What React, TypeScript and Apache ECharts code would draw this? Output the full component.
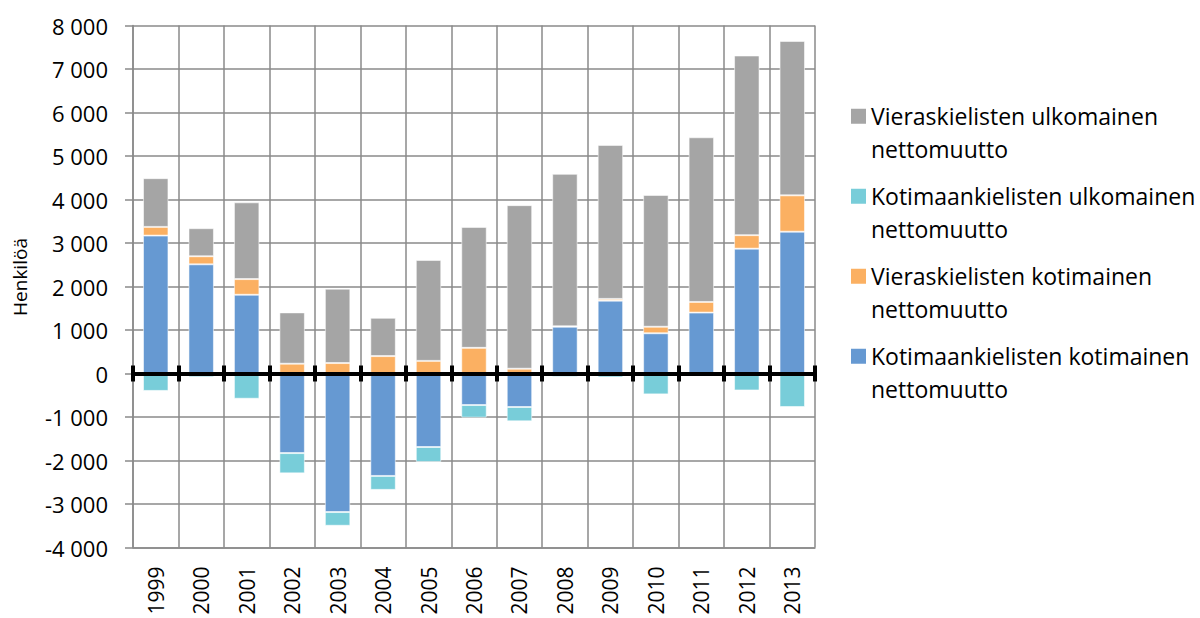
import React, { useEffect, useRef } from "react";
import * as echarts from "echarts";

const years = ["1999", "2000", "2001", "2002", "2003", "2004", "2005", "2006", "2007", "2008", "2009", "2010", "2011", "2012", "2013"];
const kotiKoti = [3170, 2510, 1810, -1830, -3185, -2355, -1690, -725, -770, 1075, 1675, 925, 1400, 2870, 3260];
const vieraKoti = [200, 185, 360, 225, 240, 400, 290, 590, 110, 10, 40, 150, 245, 310, 835];
const kotiUlko = [-400, -85, -580, -465, -315, -320, -345, -290, -330, -80, -90, -480, -10, -390, -770];
const vieraUlko = [1120, 645, 1765, 1180, 1710, 880, 2320, 2780, 3760, 3505, 3540, 3030, 3785, 4130, 3550];

const nameVieraUlko = "Vieraskielisten ulkomainen\nnettomuutto";
const nameKotiUlko = "Kotimaankielisten ulkomainen\nnettomuutto";
const nameVieraKoti = "Vieraskielisten kotimainen\nnettomuutto";
const nameKotiKoti = "Kotimaankielisten kotimainen\nnettomuutto";

const FONT = "Open Sans";

function fmt(v: number): string {
  const s = Math.abs(v).toString();
  const parts: string[] = [];
  for (let i = s.length; i > 0; i -= 3) parts.unshift(s.substring(Math.max(0, i - 3), i));
  return (v < 0 ? "-" : "") + parts.join(" ");
}

export default function App() {
  const ref = useRef<HTMLDivElement>(null);
  useEffect(() => {
    document.body.style.margin = "0";
    if (!ref.current) return;
    const chart = echarts.init(ref.current, undefined, { renderer: "svg" });
    const barBase = {
      type: "bar" as const,
      stack: "total",
      barCategoryGap: "44%",
      xAxisIndex: 0,
      yAxisIndex: 0,
    };
    const gridColor = "#8a8a8a";
    const legendIcon = "path://M0,0L0,0M0,65L0,65M0,8.75L15,8.75L15,23.75L0,23.75Z";
    chart.setOption({
      animation: false,
      textStyle: { fontFamily: FONT },
      grid: { left: 133, right: 385, top: 25.5, bottom: 70.5, containLabel: false },
      legend: {
        orient: "vertical",
        left: 846,
        top: 95,
        itemWidth: 15,
        itemHeight: 65,
        itemGap: 15,
        icon: legendIcon,
        itemStyle: { borderWidth: 0 },
        textStyle: { fontFamily: FONT, fontSize: 23, color: "#000", lineHeight: 32.5 },
        data: [nameVieraUlko, nameKotiUlko, nameVieraKoti, nameKotiKoti],
        selectedMode: false,
      },
      xAxis: [
        {
          type: "category",
          data: years,
          position: "bottom",
          axisLine: { onZero: false, lineStyle: { color: gridColor, width: 1.5 } },
          axisTick: { show: false },
          axisLabel: { rotate: 90, margin: 19, fontSize: 21, color: "#000", fontFamily: FONT, interval: 0 },
          splitLine: { show: true, interval: 0, lineStyle: { color: gridColor, width: 1.5 } },
        },
        {
          type: "category",
          data: years,
          position: "bottom",
          z: 10,
          axisLine: { onZero: true, onZeroAxisIndex: 0, lineStyle: { color: "#000", width: 4 } },
          axisTick: { show: true, inside: true, length: 8, interval: 0, lineStyle: { color: "#000", width: 4 } },
          axisLabel: { show: false },
          splitLine: { show: false },
        },
        {
          type: "category",
          data: years,
          position: "bottom",
          z: 10,
          axisLine: { onZero: true, onZeroAxisIndex: 0, lineStyle: { color: "#000", width: 4 } },
          axisTick: { show: true, inside: false, length: 8, interval: 0, lineStyle: { color: "#000", width: 4 } },
          axisLabel: { show: false },
          splitLine: { show: false },
        },
      ],
      yAxis: {
        type: "value",
        min: -4000,
        max: 8000,
        interval: 1000,
        name: "Henkilöä",
        nameLocation: "middle",
        nameGap: 104,
        nameTextStyle: { fontFamily: FONT, fontSize: 19, color: "#000", padding: [0, 0, 0, 19] },
        axisLine: { show: true, lineStyle: { color: gridColor, width: 1.5 } },
        axisTick: { show: true, length: 8, lineStyle: { color: gridColor, width: 1.5 } },
        axisLabel: { margin: 25, fontSize: 22, color: "#000", fontFamily: FONT, formatter: (v: number) => fmt(v) },
        splitLine: { show: true, lineStyle: { color: gridColor, width: 1.5 } },
      },
      series: [
        { ...barBase, name: nameKotiKoti, data: kotiKoti, itemStyle: { color: "#6699D2", borderColor: "rgba(255,255,255,0.55)", borderWidth: 1 } },
        { ...barBase, name: nameVieraKoti, data: vieraKoti, itemStyle: { color: "#FBB062", borderColor: "rgba(255,255,255,0.55)", borderWidth: 1 } },
        { ...barBase, name: nameKotiUlko, data: kotiUlko, itemStyle: { color: "#78CDD9", borderColor: "rgba(255,255,255,0.55)", borderWidth: 1 } },
        { ...barBase, name: nameVieraUlko, data: vieraUlko, itemStyle: { color: "#A5A5A5", borderColor: "rgba(255,255,255,0.55)", borderWidth: 1 } },
      ],
    });
    return () => chart.dispose();
  }, []);
  return <div ref={ref} style={{ width: 1200, height: 618 }} />;
}
